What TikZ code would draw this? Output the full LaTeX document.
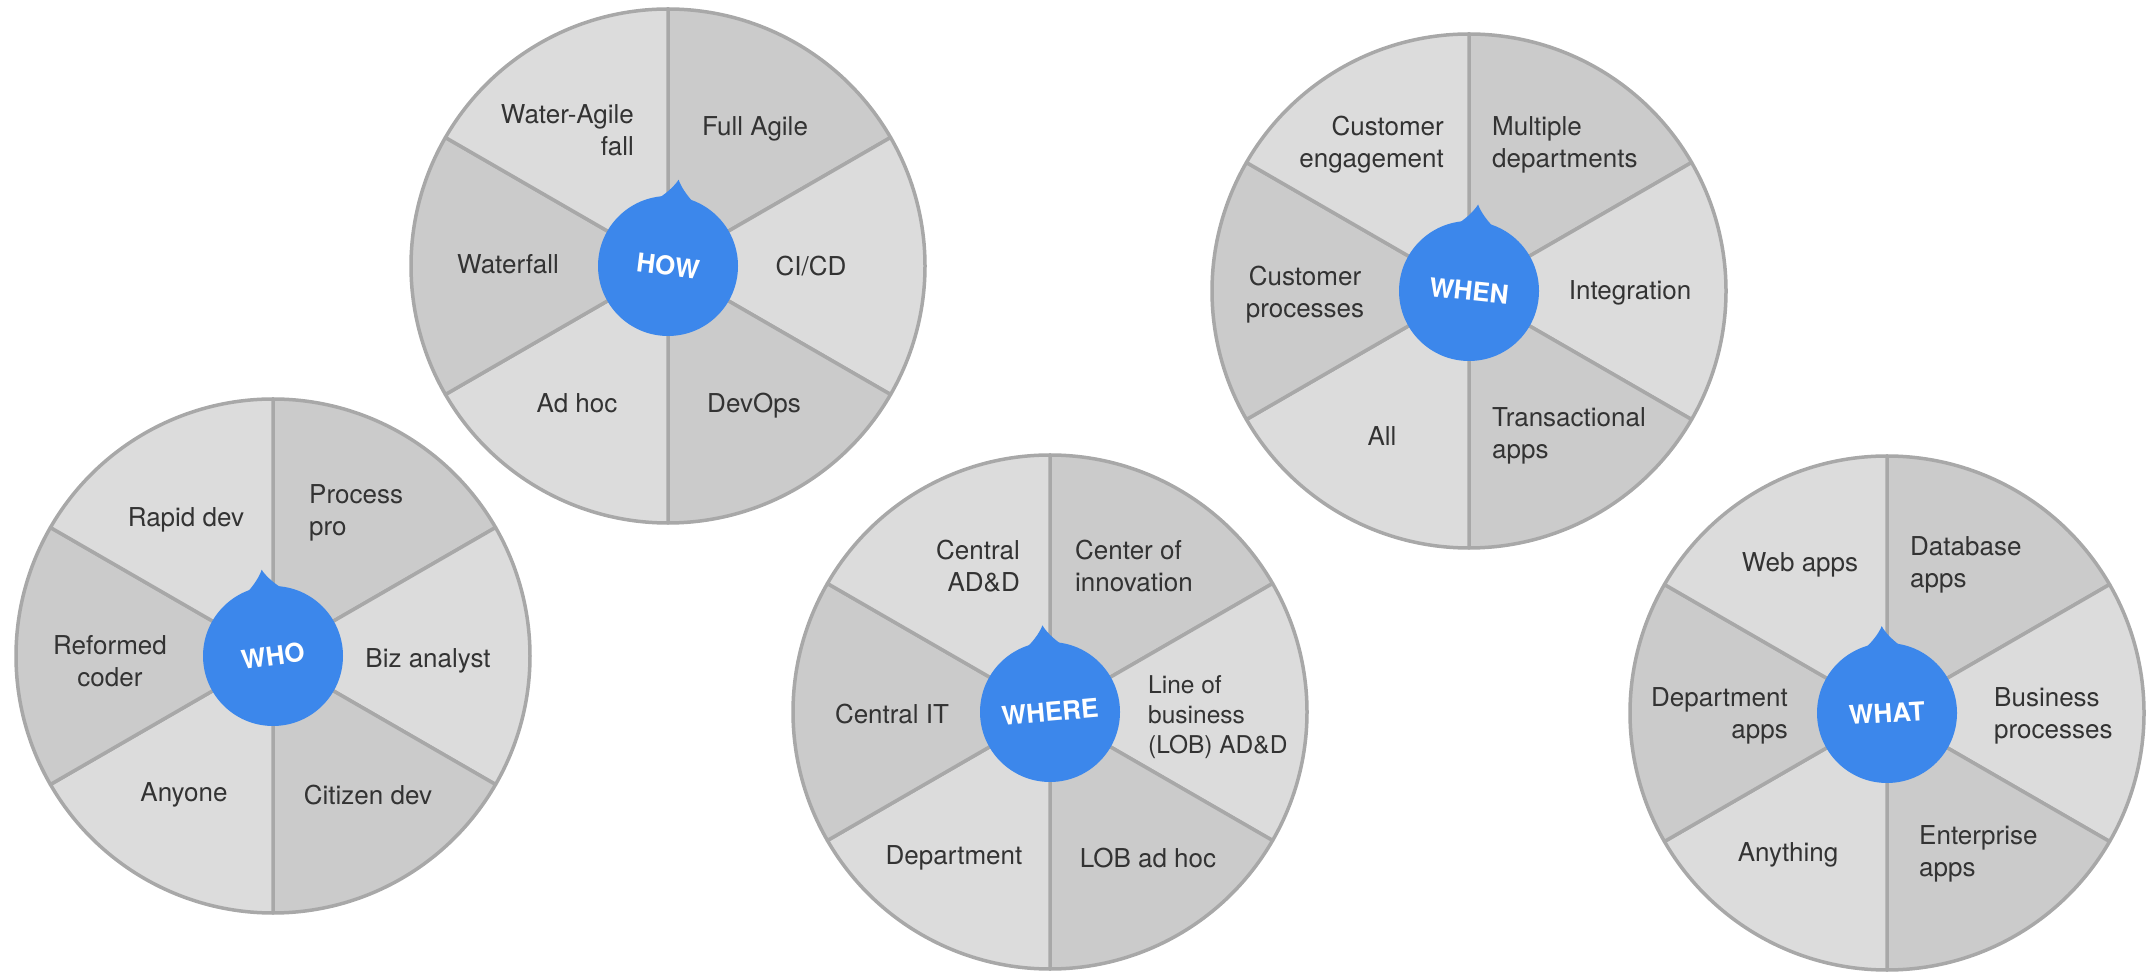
\documentclass[tikz,border=0pt]{standalone}
\usepackage{fontspec}
\setmainfont{TeX Gyre Heros}
\definecolor{segdark}{HTML}{CBCBCB}
\definecolor{seglight}{HTML}{DCDCDC}
\definecolor{edgegray}{HTML}{A8A8A8}
\definecolor{pinblue}{HTML}{3C87EB}
\definecolor{textgray}{HTML}{333333}
\tikzset{
  seg/.style={draw=edgegray, line width=3.5pt, line join=round},
  lab/.style={inner sep=0pt, text=textgray, font=\fontsize{26}{32}\selectfont},
  smalllab/.style={inner sep=0pt, text=textgray, font=\fontsize{24.5}{30}\selectfont},
  hub/.style={circle, fill=pinblue, minimum size=140pt, inner sep=0pt},
  hubtext/.style={text=white, inner sep=0pt, font=\bfseries\fontsize{26}{30}\selectfont}
}
% #1 name, #2 x, #3 y, #4 rotation of the hub, #5 hub label
\newcommand{\mywheel}[5]{%
  \coordinate (#1) at (#2,#3);
  \foreach \a/\c in {30/segdark, -30/seglight, -90/segdark, -150/seglight, 150/segdark, 90/seglight}{
    \filldraw[seg, fill=\c] (#1) -- ++(\a:257pt) arc[start angle=\a, end angle=\a+60, radius=257pt] -- cycle;
  }
  \node[hub] (#1-hub) at (#1) {};
  \begin{scope}[shift={(#1)}, rotate=#4]
    \fill[pinblue] (0,0) -- (104:69pt) .. controls (97:74pt) and (92:81pt) .. (90:87pt)
      .. controls (88:81pt) and (83:74pt) .. (76:69pt) -- cycle;
  \end{scope}
  \node[hubtext, rotate=#4] (#1-label) at (#1) {#5};
}
\begin{document}
\begin{tikzpicture}[x=1pt, y=1pt]
\useasboundingbox (0,0) rectangle (2152,975);

% HOW
\mywheel{how}{668}{709}{-7}{HOW}
\node[lab, align=right, anchor=east] (how-waf) at (634,845) {Water-Agile\\fall};
\node[lab, anchor=west] (how-fa) at (702,846) {Full Agile};
\node[lab] (how-wf) at (508,711) {Waterfall};
\node[lab] (how-ci) at (811,709) {CI/CD};
\node[lab] (how-ah) at (577,572) {Ad hoc};
\node[lab] (how-do) at (754,569) {DevOps};

% WHO
\mywheel{who}{273}{319}{7.5}{WHO}
\node[lab] (who-rd) at (186,455) {Rapid dev};
\node[lab, align=left, anchor=west] (who-pp) at (309,462) {Process\\pro};
\node[lab, align=center] (who-rc) at (110,314) {Reformed\\coder};
\node[lab] (who-ba) at (428,314) {Biz analyst};
\node[lab] (who-an) at (184,180) {Anyone};
\node[lab] (who-cd) at (368,180) {Citizen dev};

% WHERE
\mywheel{where}{1050}{263}{5}{WHERE}
\node[lab, align=right, anchor=east] (where-cad) at (1020,409) {Central\\AD\&D};
\node[lab, align=left, anchor=west] (where-coi) at (1075,409) {Center of\\innovation};
\node[lab] (where-cit) at (892,261) {Central IT};
\node[smalllab, align=left, anchor=west] (where-lob) at (1148,258) {Line of\\business\\(LOB) AD\&D};
\node[lab] (where-dep) at (954,117) {Department};
\node[lab] (where-lah) at (1148,117) {LOB ad hoc};

% WHEN
\mywheel{when}{1469}{684}{-6}{WHEN}
\node[lab, align=right, anchor=east] (when-ce) at (1444,830) {Customer\\engagement};
\node[lab, align=left, anchor=west] (when-md) at (1492,830) {Multiple\\departments};
\node[lab, align=center] (when-cp) at (1305,680) {Customer\\processes};
\node[lab] (when-in) at (1630,682) {Integration};
\node[lab] (when-all) at (1382,539) {All};
\node[lab, align=left, anchor=west] (when-ta) at (1492,539) {Transactional\\apps};

% WHAT
\mywheel{what}{1887}{262}{3.5}{WHAT}
\node[lab] (what-web) at (1800,410) {Web apps};
\node[lab, align=left, anchor=west] (what-db) at (1910,410) {Database\\apps};
\node[lab, align=right, anchor=east] (what-da) at (1788,259) {Department\\apps};
\node[lab, align=left, anchor=west] (what-bp) at (1994,259) {Business\\processes};
\node[lab] (what-any) at (1788,120) {Anything};
\node[lab, align=left, anchor=west] (what-ea) at (1919,121) {Enterprise\\apps};
\end{tikzpicture}
\end{document}
